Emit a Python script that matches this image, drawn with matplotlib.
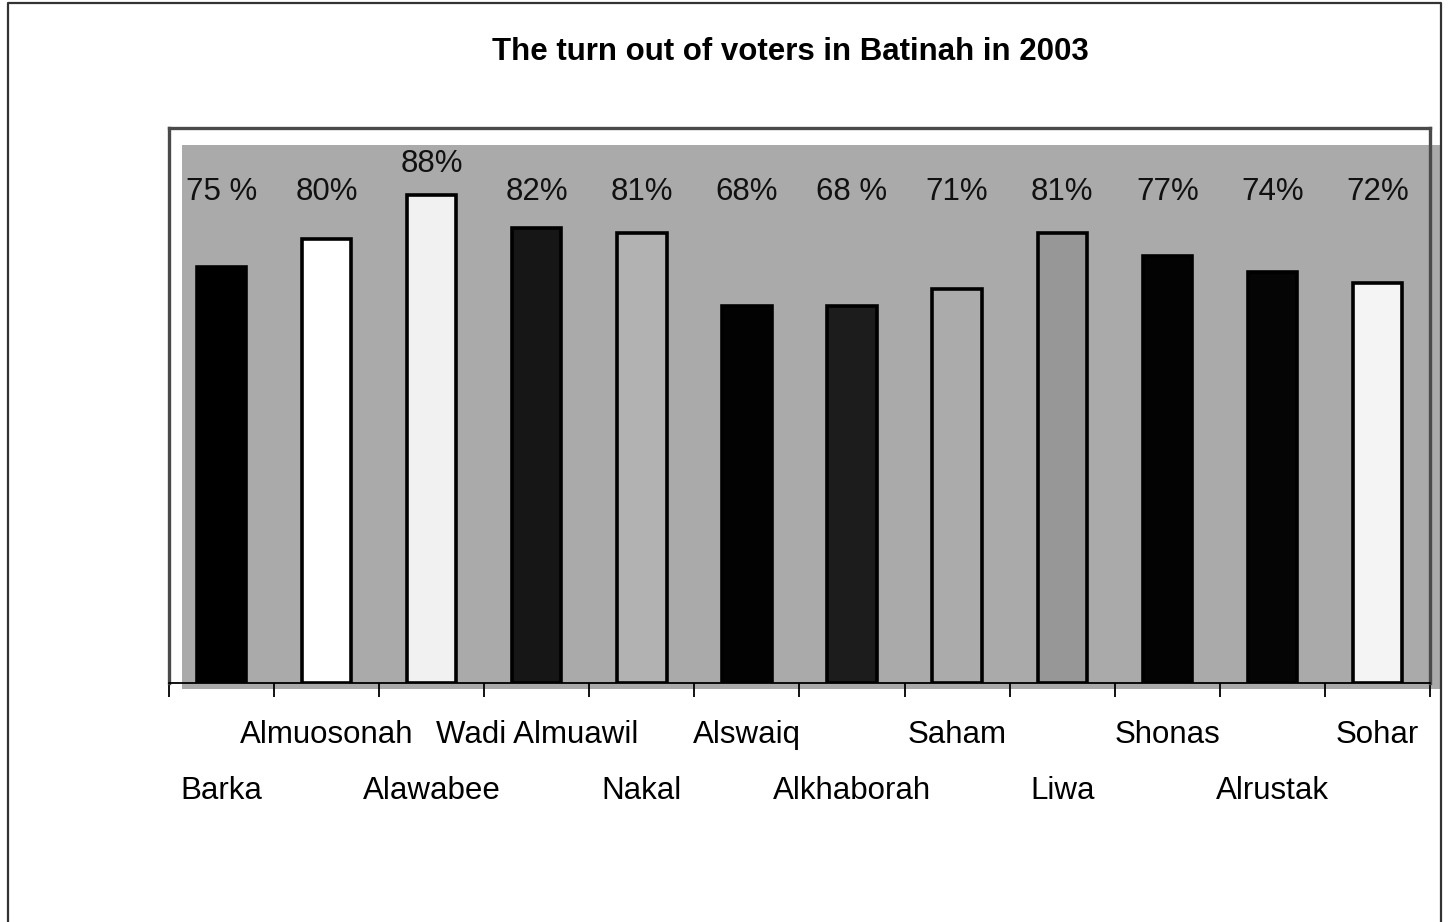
import matplotlib.pyplot as plt
import numpy as np
from matplotlib.patches import Rectangle

plt.rcParams['font.family'] = ['Liberation Sans', 'DejaVu Sans']

# data
districts = ['Barka', 'Almuosonah', 'Alawabee', 'Wadi Almuawil', 'Nakal', 'Alswaiq',
             'Alkhaborah', 'Saham', 'Liwa', 'Shonas', 'Alrustak', 'Sohar']
turnout = [75, 80, 88, 82, 81, 68, 68, 71, 81, 77, 74, 72]
value_labels = ['75 %', '80%', '88%', '82%', '81%', '68%', '68 %', '71%', '81%', '77%', '74%', '72%']

bar_colors = ['#000000', '#ffffff', '#f1f1f1', '#161616', '#b2b2b2', '#020202',
              '#1c1c1c', '#ababab', '#979797', '#030303', '#050505', '#f4f4f4']

W, H = 1451, 922
fig = plt.figure(figsize=(W / 100, H / 100), dpi=100)

# outer frame (left, top, right)
fig.add_artist(plt.Line2D([8 / W, 8 / W, 1441 / W, 1441 / W],
                          [0, 1 - 3 / H, 1 - 3 / H, 0],
                          color='#333333', lw=1.6, transform=fig.transFigure))

# plot box in pixels
left, right, top, bottom = 169, 1430, 128, 683
ax = fig.add_axes([left / W, 1 - bottom / H, (right - left) / W, (bottom - top) / H])
ax.set_facecolor('white')

# gray plot area, a little offset inside the box like the scan
ax.add_patch(Rectangle((13 / (right - left), -0.01), (1440 - left - 13) / (right - left),
                       (bottom - 145) / (bottom - top) + 0.01,
                       transform=ax.transAxes, facecolor='#aaaaaa', edgecolor='none',
                       zorder=0, clip_on=False))

x = np.arange(len(districts))
ax.bar(x, turnout, width=0.47, color=bar_colors, edgecolor='black', linewidth=2.6, zorder=2)

for i, (v, lab) in enumerate(zip(turnout, value_labels)):
    ax.text(i, max(v + 5.5, 88.5), lab, ha='center', va='center', fontsize=22.5, color='#111111', zorder=3)

ax.set_xlim(-0.5, len(districts) - 0.5)
ax.set_ylim(0, 100)

# ticks at category boundaries
ax.set_xticks(np.arange(-0.5, len(districts), 1))
ax.set_xticklabels([])
ax.tick_params(axis='x', direction='out', length=10, width=1.3, color='black')
ax.set_yticks([])

for name in ['top', 'right', 'left']:
    ax.spines[name].set_color('#4a4a4a')
    ax.spines[name].set_linewidth(2.4)
ax.spines['bottom'].set_color('black')
ax.spines['bottom'].set_linewidth(1.3)

# staggered category labels
for i, name in enumerate(districts):
    y = -0.195 if i % 2 == 0 else -0.094
    ax.text(i, y, name, transform=ax.get_xaxis_transform(), ha='center', va='center',
            fontsize=22.5, color='black')

fig.text(790 / W, 1 - 52 / H, 'The turn out of voters in Batinah in 2003',
         ha='center', va='center', fontsize=22.5, fontweight='bold')

plt.savefig('out.png', dpi=100)
